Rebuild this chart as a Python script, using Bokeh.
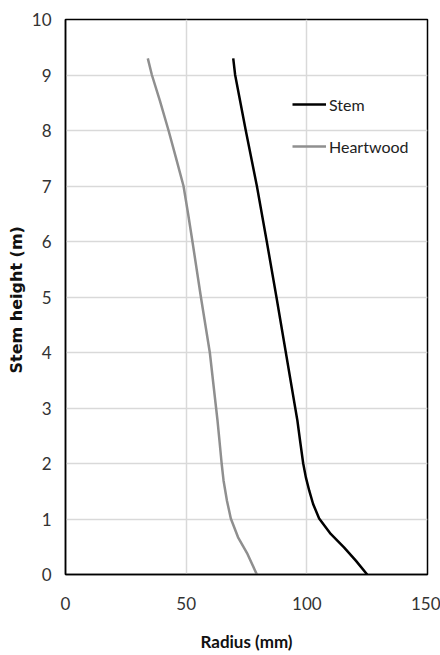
from bokeh.plotting import figure
from bokeh.models import Range1d, FixedTicker, Legend, LegendItem
from bokeh.embed import file_html
from bokeh.resources import INLINE

# Stem (outer radius) profile
stem_heights = [0, 0.25, 0.49, 0.73, 1.01, 1.27, 1.51, 1.75, 2.0, 2.41, 2.77, 3.0, 4.0, 5.0, 6.0, 7.0, 8.0, 9.0, 9.3]
stem_radius = [125.0, 120.3, 115.4, 109.9, 105.1, 102.6, 101.0, 99.6, 98.5, 97.2, 96.1, 95.2, 91.3, 87.4, 83.4, 79.3, 74.7, 70.3, 69.5]

# Heartwood radius profile
heart_heights = [0, 0.37, 0.67, 1.01, 1.33, 1.69, 2.0, 2.41, 2.77, 3.0, 4.0, 5.0, 6.0, 6.5, 7.0, 7.52, 8.0, 8.54, 9.0, 9.3]
heart_radius = [79.3, 75.4, 71.5, 68.5, 66.9, 65.5, 64.7, 63.8, 63.0, 62.4, 59.8, 56.1, 52.6, 50.8, 48.9, 45.7, 42.7, 39.1, 35.8, 34.1]

x_ticks = [0, 50, 100, 150]
y_ticks = [0, 1, 2, 3, 4, 5, 6, 7, 8, 9, 10]

FONT = "Lato"

p = figure(width=440, height=655, output_backend="svg", toolbar_location=None,
           x_range=Range1d(0, 150), y_range=Range1d(0, 10),
           min_border_left=65, min_border_right=13, min_border_top=19, min_border_bottom=81)

p.outline_line_color = "black"
p.outline_line_width = 1.5
p.background_fill_color = "white"
p.border_fill_color = "white"

for ax in (p.xaxis, p.yaxis):
    ax.axis_line_color = "black"
    ax.axis_line_width = 1.5
    ax.major_tick_line_color = None
    ax.minor_tick_line_color = None
    ax.major_tick_out = 0
    ax.major_tick_in = 0
    ax.major_label_text_font = FONT
    ax.major_label_text_font_size = "17px"
    ax.major_label_text_color = "#333333"

p.xaxis.ticker = FixedTicker(ticks=x_ticks)
p.yaxis.ticker = FixedTicker(ticks=y_ticks)
p.xaxis.major_label_standoff = 22
p.yaxis.major_label_standoff = 14

p.xaxis.axis_label = "Radius (mm)"
p.xaxis.axis_label_text_font = FONT
p.xaxis.axis_label_text_font_style = "bold"
p.xaxis.axis_label_text_font_size = "17px"
p.xaxis.axis_label_standoff = 18
p.xaxis.axis_label_text_color = "#111111"

p.yaxis.axis_label = "Stem height  (m)"
p.yaxis.axis_label_text_font = "DejaVu Sans"
p.yaxis.axis_label_text_font_style = "bold"
p.yaxis.axis_label_text_font_size = "16px"
p.yaxis.axis_label_standoff = 3
p.yaxis.axis_label_text_color = "#111111"

p.xgrid.ticker = FixedTicker(ticks=x_ticks)
p.ygrid.ticker = FixedTicker(ticks=y_ticks)
p.grid.grid_line_color = "#d9d9d9"
p.grid.grid_line_width = 1.5

r_stem = p.line(stem_radius, stem_heights, line_color="black", line_width=2.5)
r_heart = p.line(heart_radius, heart_heights, line_color="#8f8f8f", line_width=2.5)

legend = Legend(items=[LegendItem(label="Stem", renderers=[r_stem]),
                       LegendItem(label="Heartwood", renderers=[r_heart])],
                location=(227, 418), orientation="vertical",
                glyph_width=34, glyph_height=20, spacing=22, padding=0, margin=0,
                label_standoff=3, border_line_color=None, background_fill_alpha=0,
                label_text_font=FONT, label_text_font_size="16px",
                label_text_color="#222222")
p.add_layout(legend, "center")

open("out.html", "w").write(file_html(p, INLINE))
